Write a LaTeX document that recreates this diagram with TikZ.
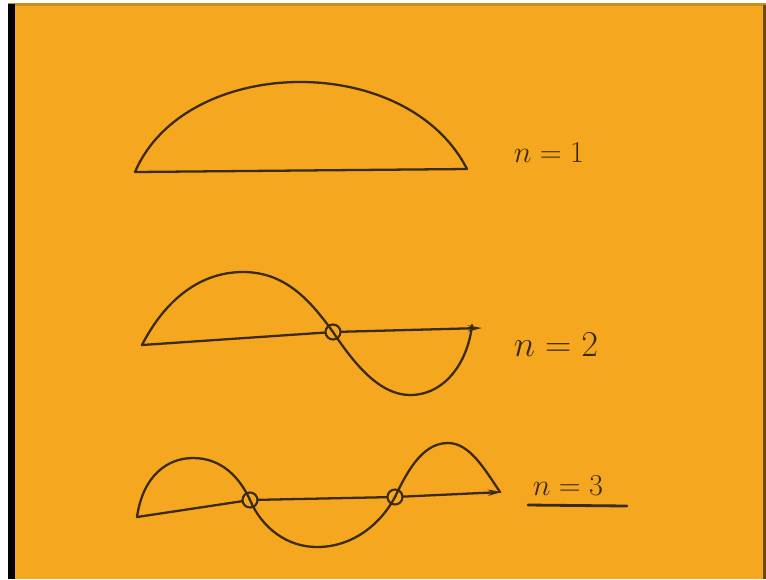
\documentclass[tikz,border=0pt]{standalone}
\usepackage{tikz}
\usetikzlibrary{
  arrows.meta,
  positioning
}
\usepackage{xcolor}
\usepackage{amsmath,amssymb}
\definecolor{slideorange}{HTML}{F5A81F}
\definecolor{slideedge}{HTML}{6A4A14}
\definecolor{slidetop}{HTML}{C8901A}
\definecolor{penbrown}{HTML}{3B2A0E}

\begin{document}
\begin{tikzpicture}[
  x=0.02cm, y=-0.02cm,
  ink/.style={penbrown, line width=1.3pt, line cap=round, line join=round},
  axis/.style={ink, -{Stealth[length=8pt, width=3.5pt]}},
  zero/.style={circle, draw=penbrown, line width=1.2pt, inner sep=0pt, minimum size=0.3cm},
  label/.style={text=penbrown, inner sep=0pt}
]
  \useasboundingbox (0,0) rectangle (766,579);
  \fill[white] (0,0) rectangle (766,579);
  \fill[slidetop] (8,3) rectangle (766,6);
  \fill[black] (8,4) rectangle (15,579);
  \fill[slideorange] (15,6) rectangle (763,579);
  \fill[slideedge] (763,5) rectangle (766,579);

  % n = 1
  \coordinate (a1) at (135,172);
  \coordinate (b1) at (467,169);
  \draw[ink] (a1) .. controls (185,55) and (406,50) .. (b1);
  \draw[ink] (a1) -- (b1);
  \node[label, font=\fontsize{17}{20}\selectfont] (l1) at (549,153) {$n=1$};

  % n = 2
  \coordinate (a2) at (142,345);
  \coordinate (p2) at (243,272);
  \node[zero] (z2) at (333,332) {};
  \coordinate (q2) at (410,395);
  \coordinate (e2) at (472,325);
  \coordinate (b2) at (482,328);
  \draw[ink] (a2) .. controls (165,300) and (200,272) .. (p2)
    .. controls (285,272) and (310,300) .. (z2.center)
    .. controls (355,365) and (380,395) .. (q2)
    .. controls (445,395) and (468,362) .. (e2);
  \draw[ink] (a2) -- (z2);
  \draw[axis] (z2) -- (b2);
  \node[label, font=\fontsize{21}{24}\selectfont] (l2) at (556,345) {$n=2$};

  % n = 3
  \coordinate (a3) at (137,517);
  \coordinate (p3) at (193,458);
  \node[zero] (z31) at (250,500) {};
  \coordinate (q3) at (317,547);
  \node[zero] (z32) at (395,497) {};
  \coordinate (r3) at (448,443);
  \coordinate (e3) at (500,492);
  \coordinate (b3) at (502,492);
  \draw[ink] (a3) .. controls (143,475) and (168,458) .. (p3)
    .. controls (222,458) and (240,478) .. (z31.center)
    .. controls (262,528) and (287,547) .. (q3)
    .. controls (352,547) and (380,525) .. (z32.center)
    .. controls (410,465) and (425,443) .. (r3)
    .. controls (470,443) and (485,470) .. (e3);
  \draw[ink] (a3) -- (z31) -- (z32);
  \draw[axis] (z32) -- (b3);
  \node[label, font=\fontsize{19}{22}\selectfont] (l3) at (568,486) {$n=3$};
  \coordinate (u1) at (528,505);
  \coordinate (u2) at (627,506);
  \draw[ink, line width=1.6pt] (u1) -- (u2);

\end{tikzpicture}
\end{document}
